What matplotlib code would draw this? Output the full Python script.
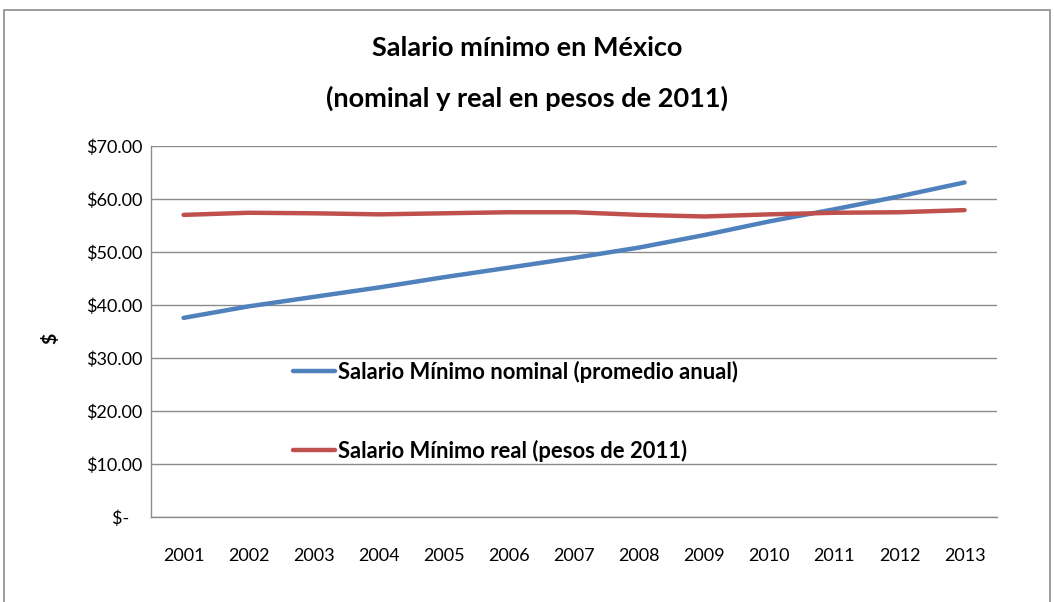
import matplotlib.pyplot as plt
from matplotlib.patches import Rectangle

# data
years = ['2001', '2002', '2003', '2004', '2005', '2006', '2007',
         '2008', '2009', '2010', '2011', '2012', '2013']
nominal = [37.57, 39.74, 41.53, 43.30, 45.24, 47.05, 48.88,
           50.84, 53.19, 55.77, 58.06, 60.50, 63.12]
real = [57.0, 57.4, 57.3, 57.1, 57.3, 57.5, 57.5,
        57.0, 56.7, 57.1, 57.4, 57.5, 57.9]
y_ticks = [0, 10, 20, 30, 40, 50, 60, 70]
y_labels = ['$-   ', '$10.00', '$20.00', '$30.00', '$40.00', '$50.00', '$60.00', '$70.00']

font = ['Lato', 'DejaVu Sans']
plt.rcParams['font.family'] = font

fig = plt.figure(figsize=(10.54, 6.02), dpi=100)
ax = fig.add_axes([0.1433, 0.1412, 0.8027, 0.6163])

# outer chart border (bottom edge falls outside the image)
fig.patches.append(Rectangle((0.004, -0.05), 0.992, 1.033, transform=fig.transFigure,
                             fill=False, edgecolor='#8c8c8c', linewidth=1.2))

x = range(len(years))
ax.plot(x, nominal, color='#4F81BD', linewidth=3.2, solid_capstyle='round',
        label='Salario Mínimo nominal (promedio anual)')
ax.plot(x, real, color='#C0504D', linewidth=3.2, solid_capstyle='round',
        label='Salario Mínimo real (pesos de 2011)')

ax.set_xlim(-0.5, len(years) - 0.5)
ax.set_ylim(0, 70)
ax.set_xticks(list(x))
ax.set_xticklabels(years, fontsize=13)
ax.set_yticks(y_ticks)
ax.set_yticklabels(y_labels, fontsize=13)
ax.tick_params(length=0, pad=6)
ax.tick_params(axis='x', pad=22)

ax.grid(True, axis='y', color='#8c8c8c', linewidth=1.0)
ax.set_axisbelow(True)
for side in ['top', 'right']:
    ax.spines[side].set_visible(False)
for side in ['left', 'bottom']:
    ax.spines[side].set_color('#8c8c8c')
    ax.spines[side].set_linewidth(1.0)

fig.text(50 / 1054, 1 - 338 / 602, '$', rotation=90, ha='center', va='center',
         fontsize=14, fontweight='bold')

fig.text(0.5, 0.92, 'Salario mínimo en México', ha='center', va='center',
         fontsize=19.5, fontweight='bold')
fig.text(0.5, 0.837, '(nominal y real en pesos de 2011)', ha='center', va='center',
         fontsize=19.5, fontweight='bold')

leg = ax.legend(loc='upper left', bbox_to_anchor=(0.158, 0.445), frameon=False,
                prop={'family': font, 'size': 15.8, 'weight': 'bold'},
                handlelength=1.9, handletextpad=0.15, labelspacing=2.6,
                borderaxespad=0)

fig.savefig('out.png', dpi=100)
